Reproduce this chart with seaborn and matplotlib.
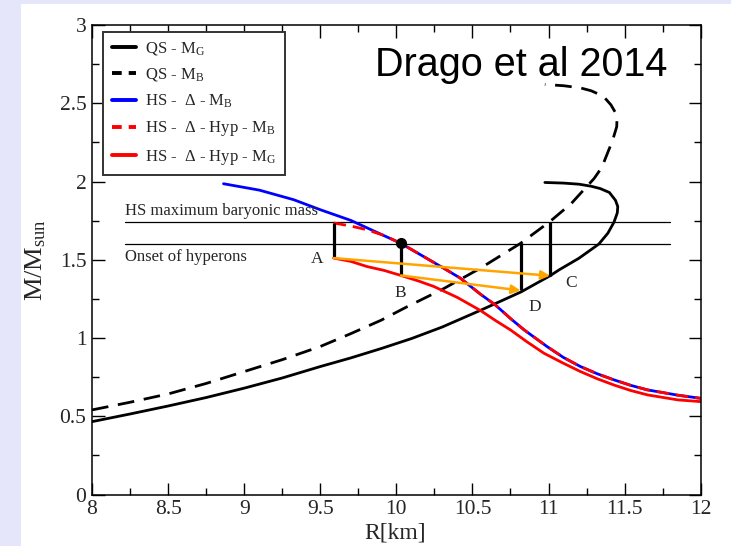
import matplotlib
matplotlib.use("Agg")
import matplotlib.pyplot as plt
import seaborn as sns
from matplotlib.lines import Line2D
from matplotlib.patches import Rectangle
from matplotlib.ticker import FixedLocator, MultipleLocator

# ---------------- data ----------------
qs_mg_r = [8.0, 8.25, 8.5, 8.75, 9.0, 9.25, 9.5, 9.7, 9.9, 10.1, 10.3, 10.55, 10.82, 11.01, 11.07,
           11.2, 11.33, 11.39, 11.43, 11.452, 11.455, 11.44, 11.40, 11.34, 11.28, 11.2, 11.1, 10.976]
qs_mg_m = [0.466, 0.515, 0.566, 0.62, 0.68, 0.745, 0.818, 0.873, 0.933, 0.997, 1.07, 1.176, 1.295,
           1.398, 1.436, 1.51, 1.60, 1.67, 1.74, 1.80, 1.84, 1.88, 1.93, 1.955, 1.97, 1.983, 1.99, 1.994]

qs_mb_r = [8.0, 8.25, 8.5, 8.75, 9.0, 9.25, 9.5, 9.7, 9.9, 10.07, 10.3, 10.55, 10.816, 11.01, 11.15,
           11.30, 11.35, 11.42, 11.448, 11.45, 11.44, 11.41, 11.36, 11.28, 11.21, 11.1, 10.976]
qs_mb_m = [0.541, 0.59, 0.643, 0.71, 0.786, 0.862, 0.946, 1.028, 1.114, 1.20, 1.31, 1.445, 1.605,
           1.745, 1.86, 2.02, 2.09, 2.26, 2.35, 2.40, 2.44, 2.49, 2.545, 2.58, 2.598, 2.612, 2.62]

hs_mb_r = [8.864, 9.1, 9.325, 9.5, 9.70, 9.85, 10.03, 10.2, 10.31, 10.42, 10.553, 10.65, 10.75,
           10.84, 10.99, 11.1, 11.21, 11.32, 11.43, 11.54, 11.65, 11.85, 12.0]
hs_mb_m = [1.986, 1.945, 1.884, 1.82, 1.752, 1.685, 1.605, 1.509, 1.447, 1.383, 1.28, 1.212, 1.125,
           1.052, 0.946, 0.875, 0.818, 0.772, 0.733, 0.698, 0.669, 0.635, 0.615]

hyp_mb_r = [9.588, 9.7, 9.807, 9.92, 10.03, 10.2, 10.31, 10.42, 10.553, 10.65, 10.75,
            10.84, 10.99, 11.1, 11.21, 11.32, 11.43, 11.54, 11.65, 11.85, 12.0]
hyp_mb_m = [1.735, 1.716, 1.692, 1.655, 1.605, 1.509, 1.447, 1.383, 1.28, 1.212, 1.125,
            1.052, 0.946, 0.875, 0.818, 0.772, 0.733, 0.698, 0.669, 0.635, 0.615]

hyp_mg_r = [9.588, 9.7, 9.807, 9.92, 10.03, 10.15, 10.245, 10.4, 10.553, 10.65, 10.75, 10.86,
            10.97, 11.1, 11.21, 11.32, 11.43, 11.54, 11.65, 11.85, 12.0]
hyp_mg_m = [1.511, 1.49, 1.457, 1.432, 1.400, 1.363, 1.33, 1.26, 1.176, 1.113, 1.052, 0.975,
            0.903, 0.838, 0.786, 0.74, 0.70, 0.665, 0.637, 0.605, 0.594]

hs_max_baryonic = 1.74
onset_hyperons = 1.60
hline_r = [8.22, 11.80]

# transitions: vertical bars (R, M_low, M_high) and arrows (start -> end)
bar_r = [9.588, 10.03, 10.816, 11.01]
bar_lo = [1.511, 1.400, 1.304, 1.398]
bar_hi = [1.738, 1.605, 1.605, 1.741]
arrow_from = [(9.588, 1.511), (10.03, 1.400)]
arrow_to = [(11.01, 1.398), (10.816, 1.304)]
dot_point = (10.03, 1.605)
point_labels = ["A", "B", "C", "D"]
point_label_pos = [(9.478, 1.504), (10.026, 1.287), (11.145, 1.351), (10.908, 1.198)]

x_ticks = [8, 8.5, 9, 9.5, 10, 10.5, 11, 11.5, 12]
x_ticklabels = ["8", "8.5", "9", "9.5", "10", "10.5", "11", "11.5", "12"]
y_ticks = [0, 0.5, 1, 1.5, 2, 2.5, 3]
y_ticklabels = ["0", "0.5", "1", "1.5", "2", "2.5", "3"]

legend_labels = [r"QS - M$_{\rm G}$", r"QS - M$_{\rm B}$", r"HS -  Δ - M$_{\rm B}$",
                 r"HS -  Δ - Hyp - M$_{\rm B}$", r"HS -  Δ - Hyp - M$_{\rm G}$"]

# ---------------- style ----------------
sns.set_theme(style="ticks")
plt.rcParams["font.family"] = ["Liberation Serif", "DejaVu Serif"]
plt.rcParams["mathtext.fontset"] = "custom"
plt.rcParams["mathtext.rm"] = "Liberation Serif"
plt.rcParams["mathtext.it"] = "Liberation Serif:italic"
plt.rcParams["mathtext.bf"] = "Liberation Serif:bold"

W, H = 731, 546
fig = plt.figure(figsize=(W / 100, H / 100), dpi=100, facecolor="#E6E6FA")
fig.add_artist(Rectangle((21 / W, 0), 1, 1 - 4 / H, transform=fig.transFigure,
                         facecolor="white", edgecolor="none", zorder=-5))

ax = fig.add_axes([92 / W, 1 - 494.6 / H, (700.7 - 92) / W, (494.6 - 25) / H])
ax.set_facecolor("white")

dash_black = (0, (6, 3.5))
dash_red = (0, (4.5, 2.5))

sns.lineplot(x=qs_mg_r, y=qs_mg_m, sort=False, estimator=None, color="black", lw=2.0, ax=ax)
sns.lineplot(x=qs_mb_r, y=qs_mb_m, sort=False, estimator=None, color="black", lw=2.0,
             linestyle=dash_black, ax=ax)
sns.lineplot(x=hs_mb_r, y=hs_mb_m, sort=False, estimator=None, color="#0000FF", lw=2.0, ax=ax)
sns.lineplot(x=hyp_mb_r, y=hyp_mb_m, sort=False, estimator=None, color="#FF0000", lw=2.0,
             linestyle=dash_red, ax=ax)
sns.lineplot(x=hyp_mg_r, y=hyp_mg_m, sort=False, estimator=None, color="#FF0000", lw=2.0, ax=ax)

for yv in (hs_max_baryonic, onset_hyperons):
    ax.plot(hline_r, [yv, yv], color="black", lw=0.9, zorder=1)

for r, lo, hi in zip(bar_r, bar_lo, bar_hi):
    ax.plot([r, r], [lo, hi], color="black", lw=2.3, zorder=4, solid_capstyle="butt")

for a, b in zip(arrow_from, arrow_to):
    ax.annotate("", xy=b, xytext=a,
                arrowprops=dict(arrowstyle="-|>", color="#FFA500", lw=1.8,
                                mutation_scale=13, shrinkA=0, shrinkB=0), zorder=5)

ax.plot([dot_point[0]], [dot_point[1]], marker="o", ms=7, color="black", zorder=6)

for lab, (px, py) in zip(point_labels, point_label_pos):
    ax.text(px, py, lab, ha="center", va="center", fontsize=12.5)

ax.text(8.22, 1.788, "HS maximum baryonic mass", ha="left", va="baseline", fontsize=12)
ax.text(8.22, 1.495, "Onset of hyperons", ha="left", va="baseline", fontsize=12)

ax.set_xlim(8, 12)
ax.set_ylim(0, 3)
ax.xaxis.set_major_locator(FixedLocator(x_ticks))
ax.set_xticklabels(x_ticklabels)
ax.yaxis.set_major_locator(FixedLocator(y_ticks))
ax.set_yticklabels(y_ticklabels)
ax.xaxis.set_minor_locator(MultipleLocator(0.25))
ax.yaxis.set_minor_locator(MultipleLocator(0.25))
ax.tick_params(which="both", direction="in", top=True, right=True, width=1.0, color="black")
ax.tick_params(which="major", length=9, labelsize=15.5, pad=4)
ax.tick_params(which="minor", length=5)
ax.set_xlabel("")
ax.set_ylabel("")
for s in ax.spines.values():
    s.set_linewidth(1.1)
    s.set_color("black")

fig.text(395 / W, 1 - 539 / H, "R[km]", ha="center", va="baseline", fontsize=17)
fig.text(36 / W, 1 - 260 / H, r"M/M$_{\rm sun}$", rotation=90, ha="center", va="center",
         fontsize=19)

fig.text(375 / W, 1 - 76 / H, "Drago et al 2014", ha="left", va="baseline", fontsize=28.5,
         family="Liberation Sans", color="black")

handles = [
    Line2D([], [], color="black", lw=2.8),
    Line2D([], [], color="black", lw=2.8, linestyle=(0, (2.5, 1.8))),
    Line2D([], [], color="#0000FF", lw=2.8),
    Line2D([], [], color="#FF0000", lw=2.8, linestyle=(0, (2.5, 1.8))),
    Line2D([], [], color="#FF0000", lw=2.8),
]
leg = ax.legend(handles, legend_labels, loc="upper left",
                bbox_to_anchor=(103.3 / W, 1 - 31.7 / H), bbox_transform=fig.transFigure,
                borderaxespad=0, fontsize=12, handlelength=1.45, handletextpad=0.55,
                labelspacing=0.56, borderpad=0.5, fancybox=False, framealpha=1)
leg.get_frame().set_edgecolor("#333333")
leg.get_frame().set_linewidth(1.4)

fig.savefig("out.png", dpi=100, facecolor=fig.get_facecolor())
